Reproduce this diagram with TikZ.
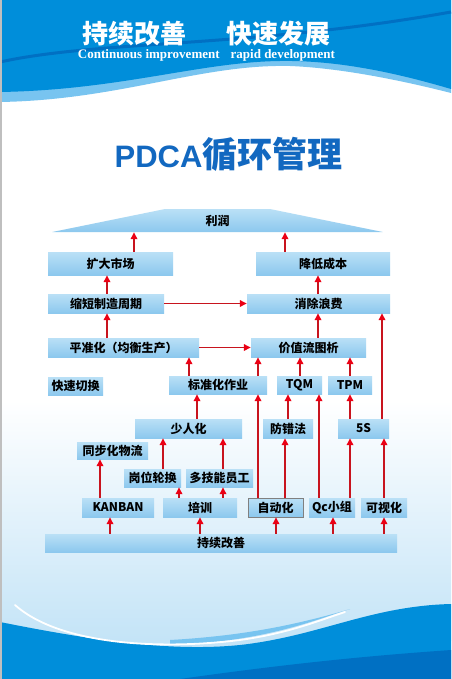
\documentclass[tikz,border=0pt]{standalone}
\usepackage{fontspec}
\newfontfamily\cjk{Noto Sans CJK SC}
\newfontfamily\serifen{Liberation Serif}
\newfontfamily\sansen{Liberation Sans}
\usepackage{tikz}
\usetikzlibrary{shapes.geometric,arrows.meta,positioning,calc}
\definecolor{posterblue}{RGB}{0,142,218}
\definecolor{bannerlight}{RGB}{120,196,240}
\definecolor{bannerdark}{RGB}{0,112,195}
\definecolor{skylight}{RGB}{196,228,247}
\definecolor{titleblue}{RGB}{18,104,192}
\definecolor{boxtop}{RGB}{186,224,246}
\definecolor{boxbot}{RGB}{140,200,238}
\definecolor{arrowred}{RGB}{200,20,30}
\definecolor{headred}{RGB}{235,0,20}

\begin{document}
\begin{tikzpicture}[x=1pt, y=-1pt,
    box/.style={shade, top color=boxtop, middle color=white, bottom color=boxbot,
        inner sep=0pt, minimum height=19, font=\cjk\bfseries\fontsize{12}{14}\selectfont},
    flow/.style={draw=arrowred, line width=1.6pt,
        -{Triangle[length=7pt, width=6.5pt, color=headred]}}]
    \useasboundingbox (0,0) rectangle (451,679);

    % background and waves
    \fill[white] (0,0) rectangle (451,679);
    \shade[top color=white, bottom color=skylight] (0,400) rectangle (451,640);
    \fill[skylight] (0,639) rectangle (451,679);
    \fill[bannerlight] (0,0) -- (451,0) -- (451,93) .. controls (400,80) and (340,68) .. (290,66)
        .. controls (200,64) and (120,100) .. (0,102) -- cycle;
    \fill[posterblue] (0,0) -- (451,0) -- (451,89) .. controls (400,74) and (340,60) .. (280,61)
        .. controls (200,62) and (120,90) .. (0,92) -- cycle;
    \draw[bannerdark, line width=3pt] (0,62) .. controls (100,40) and (250,48) .. (451,12);
    \fill[posterblue] (0,622) .. controls (90,640) and (170,652) .. (240,645)
        .. controls (320,636) and (370,606) .. (451,604) -- (451,679) -- (0,679) -- cycle;
    \fill[bannerlight] (170,645) .. controls (260,642) and (310,622) .. (350,609)
        -- (340,612) .. controls (290,626) and (240,636) .. (170,640) -- cycle;
    \fill[bannerdark] (180,679) .. controls (300,662) and (380,655) .. (451,650) -- (451,679) -- cycle;
    \draw[white, line width=1.8pt, line cap=round] (15,605) .. controls (60,645) and (160,650) .. (240,640)
        .. controls (290,633) and (320,620) .. (345,612);
    \fill[gray!50] (0,0) rectangle (1.5,679);

    % headings
    \node[inner sep=0pt, text=white, font=\cjk\bfseries\fontsize{26}{28}\selectfont] (slogan) at (206.5,34)
        {持续改善\hspace{40pt}快速发展};
    \node[inner sep=0pt, text=white, font=\serifen\bfseries\fontsize{13}{15}\selectfont] (sloganen) at (206.5,55)
        {Continuous improvement\hspace{11pt}rapid development};
    \node[text=titleblue, font=\cjk\bfseries\fontsize{35}{40}\selectfont] (title) at (228.5,154)
        {{\sansen\fontsize{31}{36}\selectfont PDCA}循环管理};

    % boxes
    \node[box, trapezium, trapezium left angle=24, trapezium right angle=24, trapezium stretches=true,
        minimum width=331, minimum height=23] (profit) at (217.5,220.5) {利润};
    \node[box, minimum width=125, minimum height=23] (market) at (110.5,263.5) {扩大市场};
    \node[box, minimum width=134, minimum height=23] (cost) at (323,263.5) {降低成本};
    \node[box, minimum width=116] (cycle) at (106,303.5) {缩短制造周期};
    \node[box, minimum width=143] (waste) at (318.5,303.5) {消除浪费};
    \node[box, minimum width=151] (level) at (123.5,347.5) {平准化（均衡生产）};
    \node[box, minimum width=115] (vsm) at (308.5,347.5) {价值流图析};
    \node[box, minimum width=55, minimum height=18] (smed) at (75.5,386) {快速切换};
    \node[box, minimum width=98, minimum height=18] (std) at (218,385) {标准化作业};
    \node[box, minimum width=45, minimum height=18] (tqm) at (299.5,385) {TQM};
    \node[box, minimum width=44, minimum height=18] (tpm) at (350,385) {TPM};
    \node[box, minimum width=107] (lean) at (188.5,428.5) {少人化};
    \node[box, minimum width=50] (poka) at (288,428.5) {防错法};
    \node[box, minimum width=51] (fives) at (363.5,428.5) {5S};
    \node[box, minimum width=71, minimum height=17] (sync) at (112.5,450.5) {同步化物流};
    \node[box, minimum width=57, minimum height=18] (rotate) at (152.5,478) {岗位轮换};
    \node[box, minimum width=67, minimum height=18] (multi) at (219.5,478) {多技能员工};
    \node[box, minimum width=72] (kanban) at (118,507.5) {KANBAN};
    \node[box, minimum width=74] (train) at (200,507.5) {培训};
    \node[box, draw=gray, minimum width=55] (auto) at (275.5,507.5) {自动化};
    \node[box, minimum width=46] (qc) at (332,507.5) {Qc小组};
    \node[box, minimum width=46] (visual) at (384,507.5) {可视化};
    \node[box, minimum width=352, minimum height=18] (kaizen) at (221,543) {持续改善};

    % arrows
    \foreach \src/\dst/\ax in {market/profit/134, cost/profit/285, cycle/market/107, waste/cost/318,
        level/cycle/107, vsm/waste/318, fives/waste/382, std/level/189, std/vsm/258, tqm/vsm/300,
        tpm/vsm/350, lean/std/197, poka/tqm/288, fives/tpm/350, rotate/lean/163, multi/lean/223,
        kanban/sync/100, train/rotate/179, train/multi/223, auto/std/258, auto/poka/285,
        qc/tqm/319, qc/fives/350, visual/fives/384, kaizen/kanban/110, kaizen/train/200,
        kaizen/auto/276, kaizen/qc/333, kaizen/visual/384}
        \draw[flow] (\src.north -| \ax,0) -- (\dst.south -| \ax,0);
    \draw[flow] (cycle.east) -- (waste.west);
    \draw[flow] (level.east) -- (vsm.west);
\end{tikzpicture}
\end{document}
